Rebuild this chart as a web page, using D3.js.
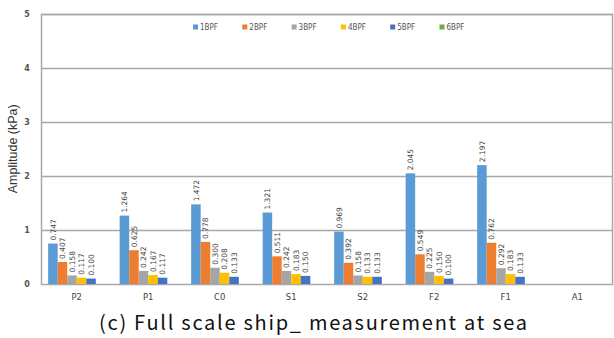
<!DOCTYPE html>
<html>
<head>
<meta charset="UTF-8">
<title>Amplitude chart</title>
<style>
  body { margin: 0; background: #fff; }
</style>
</head>
<body>
<div id="chart"></div>
<script src="https://cdn.jsdelivr.net/npm/d3@7"></script>
<script>
// data
const categories = ["P2", "P1", "C0", "S1", "S2", "F2", "F1", "A1"];
const seriesNames = ["1BPF", "2BPF", "3BPF", "4BPF", "5BPF", "6BPF"];
const bpf1 = [0.747, 1.264, 1.472, 1.321, 0.969, 2.045, 2.197, null];
const bpf2 = [0.407, 0.625, 0.778, 0.511, 0.392, 0.549, 0.762, null];
const bpf3 = [0.158, 0.242, 0.300, 0.242, 0.158, 0.225, 0.292, null];
const bpf4 = [0.117, 0.167, 0.208, 0.183, 0.133, 0.150, 0.183, null];
const bpf5 = [0.100, 0.117, 0.133, 0.150, 0.133, 0.100, 0.133, null];
const bpf6 = [null, null, null, null, null, null, null, null];
const yTicks = [0, 1, 2, 3, 4, 5];

const seriesValues = [bpf1, bpf2, bpf3, bpf4, bpf5, bpf6];
const colors = ["#5B9BD5", "#ED7D31", "#A5A5A5", "#FFC000", "#4472C4", "#70AD47"];

const W = 614, H = 338;
const mLeft = 41, mRight = 613, mTop = 13.5, mBottom = 284;

const svg = d3.select("#chart").append("svg")
    .attr("width", W)
    .attr("height", H);

const x0 = d3.scaleBand().domain(categories).range([mLeft, mRight]).paddingInner(0.2).paddingOuter(0.1);
const x1 = d3.scaleBand().domain(seriesNames).range([0, x0.bandwidth()]);
const y = d3.scaleLinear().domain([0, 5]).range([mBottom, mTop]);

// gridlines
svg.append("g").selectAll("line").data(yTicks.filter(d => d > 0)).enter().append("line")
    .attr("x1", mLeft).attr("x2", mRight)
    .attr("y1", d => Math.round(y(d)) + 0.5).attr("y2", d => Math.round(y(d)) + 0.5)
    .attr("stroke", "#a8a8a8").attr("stroke-width", 1.5);

// frame
svg.append("rect")
    .attr("x", mLeft + 0.5).attr("y", Math.round(y(5)) + 0.5)
    .attr("width", mRight - mLeft - 1).attr("height", mBottom - Math.round(y(5)))
    .attr("fill", "none").attr("stroke", "#a8a8a8").attr("stroke-width", 1.5);

// y tick labels
svg.append("g").selectAll("text").data(yTicks).enter().append("text")
    .attr("x", 27).attr("y", d => y(d) + 3)
    .attr("text-anchor", "middle")
    .attr("font-family", "DejaVu Sans, sans-serif").attr("font-size", "8px").attr("font-weight", "bold")
    .attr("fill", "#555")
    .text(d => d);

// y title
svg.append("text")
    .attr("transform", `translate(17,${(mTop + mBottom) / 2}) rotate(-90)`)
    .attr("text-anchor", "middle")
    .attr("font-family", "Liberation Sans, Arial, sans-serif").attr("font-size", "12.5px")
    .attr("fill", "#333")
    .text("Amplitude (kPa)");

// x labels
svg.append("g").selectAll("text").data(categories).enter().append("text")
    .attr("x", d => x0(d) + x0.bandwidth() / 2)
    .attr("y", 300)
    .attr("text-anchor", "middle")
    .attr("font-family", "DejaVu Sans, sans-serif").attr("font-size", "8.5px")
    .attr("fill", "#444")
    .text(d => d);

// bars
const groups = svg.append("g").selectAll("g").data(categories).enter().append("g")
    .attr("transform", d => `translate(${x0(d)},0)`);

groups.each(function (cat, ci) {
    const g = d3.select(this);
    const rows = seriesNames.map((s, si) => ({ s: s, v: seriesValues[si][ci], c: colors[si] }))
        .filter(r => r.v != null);
    g.selectAll("rect").data(rows).enter().append("rect")
        .attr("x", r => x1(r.s))
        .attr("y", r => y(r.v))
        .attr("width", x1.bandwidth())
        .attr("height", r => y(0) - y(r.v))
        .attr("fill", r => r.c);
    g.selectAll("text").data(rows).enter().append("text")
        .attr("transform", r => `translate(${x1(r.s) + x1.bandwidth() / 2 + 2.8},${y(r.v) - 3}) rotate(-90)`)
        .attr("font-family", "DejaVu Sans, sans-serif").attr("font-size", "7.5px")
        .attr("fill", "#444")
        .text(r => r.v.toFixed(3));
});

// legend
const legend = svg.append("g").selectAll("g").data(seriesNames).enter().append("g")
    .attr("transform", (d, i) => `translate(${193 + i * 49.3},27)`);
legend.append("rect")
    .attr("x", 0).attr("y", -2.5).attr("width", 5).attr("height", 5)
    .attr("fill", (d, i) => colors[i]);
legend.append("text")
    .attr("x", 7).attr("y", 3)
    .attr("font-family", "DejaVu Sans Condensed, sans-serif").attr("font-size", "8px")
    .attr("fill", "#555")
    .text(d => d);

// caption
svg.append("text")
    .attr("x", 313).attr("y", 330)
    .attr("text-anchor", "middle")
    .attr("font-family", "Noto Sans CJK KR, sans-serif").attr("font-size", "20px")
    .attr("textLength", 428).attr("lengthAdjust", "spacing")
    .attr("fill", "#111")
    .text("(c) Full scale ship_ measurement at sea");
</script>
</body>
</html>
